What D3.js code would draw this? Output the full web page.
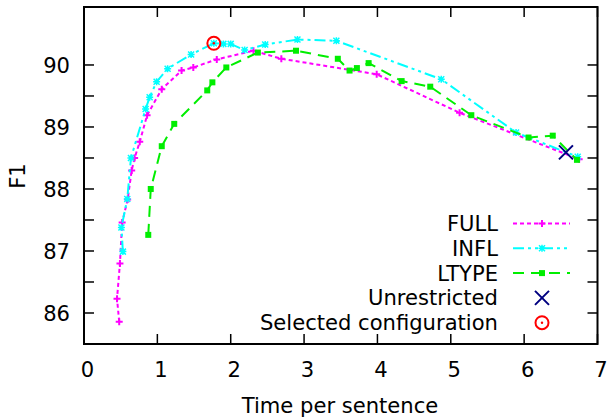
<!DOCTYPE html>
<html>
<head>
<meta charset="utf-8">
<script src="https://cdn.jsdelivr.net/npm/d3@7"></script>
<style>
  body { margin: 0; background: #fff; }
  text { font-family: "DejaVu Sans", sans-serif; fill: #000; }
</style>
</head>
<body>
<div id="chart"></div>
<script>
// data: [time per sentence, F1]
const full = [[0.48,85.86],[0.45,86.23],[0.49,86.80],[0.52,87.46],[0.595,87.83],[0.65,88.30],[0.69,88.50],
  [0.76,88.76],[0.86,89.19],[1.06,89.61],[1.33,89.91],[1.49,89.96],[1.81,90.09],[2.31,90.23],[2.69,90.10],
  [3.99,89.85],[5.12,89.23],[6.75,88.48]];
const infl = [[0.53,86.99],[0.51,87.38],[0.59,87.84],[0.64,88.50],[0.84,89.29],[0.895,89.48],[0.99,89.73],
  [1.14,89.94],[1.46,90.17],[1.77,90.35],[1.90,90.34],[2.00,90.34],[2.19,90.24],[2.47,90.33],[2.91,90.41],
  [3.44,90.39],[4.87,89.77],[5.89,88.91],[6.73,88.52]];
const ltype = [[0.876,87.26],[0.91,88.00],[1.06,88.69],[1.23,89.05],[1.68,89.59],[1.75,89.72],[1.94,89.96],
  [2.37,90.20],[2.89,90.23],[3.46,90.10],[3.62,89.91],[3.72,89.95],[3.88,90.03],[4.33,89.74],[4.72,89.65],
  [5.28,89.19],[6.06,88.83],[6.39,88.86],[6.72,88.47]];
const unrestricted = [[6.57, 88.59]];
const selected = [[1.77, 90.35]];

const xTicks = [0, 1, 2, 3, 4, 5, 6, 7];
const yTicks = [86, 87, 88, 89, 90];
const yMinor = [86.5, 87.5, 88.5, 89.5];

const W = 607, H = 418;
const margin = { top: 7, right: 9.5, bottom: 74, left: 84 },
    width = W - margin.left - margin.right,
    height = H - margin.top - margin.bottom;

const svg = d3.select("#chart").append("svg")
    .attr("width", W).attr("height", H);
const g = svg.append("g")
    .attr("transform", `translate(${margin.left},${margin.top})`);

const x = d3.scaleLinear().domain([0, 7]).range([0, width]);
const y = d3.scaleLinear().domain([85.5, 90.935]).range([height, 0]);

const fs = 21.1;
const tickLen = 10;

// ticks, mirrored on all four sides
xTicks.forEach(t => {
    g.append("line").attr("x1", x(t)).attr("x2", x(t)).attr("y1", height).attr("y2", height - tickLen)
        .attr("stroke", "#000").attr("stroke-width", 1.5);
    g.append("line").attr("x1", x(t)).attr("x2", x(t)).attr("y1", 0).attr("y2", tickLen)
        .attr("stroke", "#000").attr("stroke-width", 1.5);
    g.append("text").attr("x", x(t) + 3.5).attr("y", height + 33)
        .attr("text-anchor", "middle").style("font-size", fs + "px").text(t);
});
yTicks.concat(yMinor).forEach(t => {
    g.append("line").attr("x1", 0).attr("x2", tickLen).attr("y1", y(t)).attr("y2", y(t))
        .attr("stroke", "#000").attr("stroke-width", 1.5);
    g.append("line").attr("x1", width).attr("x2", width - tickLen).attr("y1", y(t)).attr("y2", y(t))
        .attr("stroke", "#000").attr("stroke-width", 1.5);
});
yTicks.forEach(t => {
    g.append("text").attr("x", -14).attr("y", y(t)).attr("dy", "0.36em")
        .attr("text-anchor", "end").style("font-size", fs + "px").text(t);
});

// frame
g.append("rect").attr("width", width).attr("height", height)
    .attr("fill", "none").attr("stroke", "#000").attr("stroke-width", 2);

// axis titles
svg.append("text").attr("x", 340).attr("y", 413).attr("text-anchor", "middle")
    .style("font-size", fs + "px").text("Time per sentence");
svg.append("text").attr("transform", "translate(25,176) rotate(-90)").attr("text-anchor", "middle")
    .style("font-size", fs + "px").text("F1");

const series = [
    { name: "FULL", data: full, color: "#ff00ff", dash: "4,3", marker: "plus" },
    { name: "INFL", data: infl, color: "#00ffff", dash: "11,4,3,4,3,4", marker: "star" },
    { name: "LTYPE", data: ltype, color: "#00ee00", dash: "11,7", marker: "square" }
];

function drawMarker(sel, type, color, cx, cy) {
    if (type === "plus") {
        sel.append("path").attr("d", `M${cx - 3.5},${cy}H${cx + 3.5}M${cx},${cy - 3.5}V${cy + 3.5}`)
            .attr("stroke", color).attr("stroke-width", 2);
    } else if (type === "star") {
        sel.append("path").attr("d", `M${cx - 3.5},${cy}H${cx + 3.5}M${cx},${cy - 3.5}V${cy + 3.5}` +
            `M${cx - 3},${cy - 3}L${cx + 3},${cy + 3}M${cx - 3},${cy + 3}L${cx + 3},${cy - 3}`)
            .attr("stroke", color).attr("stroke-width", 1.5);
    } else if (type === "square") {
        sel.append("rect").attr("x", cx - 3).attr("y", cy - 3).attr("width", 6).attr("height", 6)
            .attr("fill", color);
    } else if (type === "cross") {
        sel.append("path").attr("d", `M${cx - 7},${cy - 7}L${cx + 7},${cy + 7}M${cx - 7},${cy + 7}L${cx + 7},${cy - 7}`)
            .attr("stroke", color).attr("stroke-width", 2);
    } else if (type === "circle") {
        sel.append("circle").attr("cx", cx).attr("cy", cy).attr("r", 6.5)
            .attr("fill", "none").attr("stroke", color).attr("stroke-width", 2);
        sel.append("circle").attr("cx", cx).attr("cy", cy).attr("r", 1.2).attr("fill", color);
    }
}

const line = d3.line().x(d => x(d[0])).y(d => y(d[1]));
const plot = g.append("g");

series.forEach(s => {
    plot.append("path").datum(s.data).attr("d", line)
        .attr("fill", "none").attr("stroke", s.color).attr("stroke-width", 2)
        .attr("stroke-dasharray", s.dash);
    s.data.forEach(d => drawMarker(plot, s.marker, s.color, x(d[0]), y(d[1])));
});
unrestricted.forEach(d => drawMarker(plot, "cross", "#000080", x(d[0]), y(d[1])));
selected.forEach(d => drawMarker(plot, "circle", "#ff0000", x(d[0]), y(d[1])));

// legend
const legendItems = [
    { label: "FULL", s: series[0] },
    { label: "INFL", s: series[1] },
    { label: "LTYPE", s: series[2] },
    { label: "Unrestricted", marker: "cross", color: "#000080" },
    { label: "Selected configuration", marker: "circle", color: "#ff0000" }
];
const leg = svg.append("g");
legendItems.forEach((item, i) => {
    const base = 231 + i * 24.8;
    const cy = base - 7.5;
    leg.append("text").attr("x", 498).attr("y", base).attr("text-anchor", "end")
        .style("font-size", fs + "px").text(item.label);
    if (item.s) {
        leg.append("line").attr("x1", 513).attr("x2", 570).attr("y1", cy).attr("y2", cy)
            .attr("stroke", item.s.color).attr("stroke-width", 2).attr("stroke-dasharray", item.s.dash);
        drawMarker(leg, item.s.marker, item.s.color, 542, cy);
    } else {
        drawMarker(leg, item.marker, item.color, 542, cy);
    }
});
</script>
</body>
</html>
